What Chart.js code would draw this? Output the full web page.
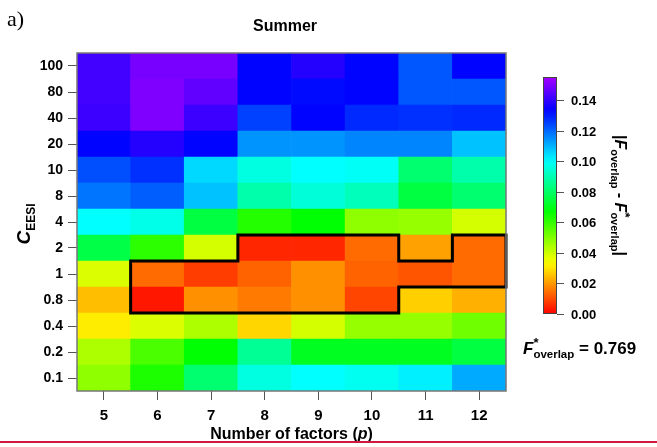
<!DOCTYPE html>
<html>
<head>
<meta charset="utf-8">
<script src="https://cdn.jsdelivr.net/npm/chart.js@4.4.0/dist/chart.umd.min.js"></script>
<style>
  html, body { margin: 0; padding: 0; background: #fff; }
</style>
</head>
<body>
<canvas id="heat" width="657" height="447"></canvas>
<script>
const FONT = "'Liberation Sans', Arial, sans-serif";

// number of factors (columns)
const factors = ["5", "6", "7", "8", "9", "10", "11", "12"];
// C_EESI levels, bottom row first
const cLevels = ["0.1", "0.2", "0.4", "0.8", "1", "2", "4", "8", "10", "20", "40", "80", "100"];

// |F_overlap - F*_overlap| for each C_EESI level, p = 5..12
const d0_1 = [0.048, 0.063, 0.081, 0.096, 0.100, 0.098, 0.102, 0.111];
const d0_2 = [0.044, 0.057, 0.067, 0.086, 0.071, 0.071, 0.071, 0.075];
const d0_4 = [0.031, 0.038, 0.044, 0.028, 0.039, 0.047, 0.047, 0.052];
const d0_8 = [0.025, 0.003, 0.019, 0.016, 0.019, 0.009, 0.027, 0.023];
const d1   = [0.038, 0.014, 0.008, 0.013, 0.019, 0.013, 0.011, 0.014];
const d2   = [0.076, 0.061, 0.039, 0.005, 0.005, 0.014, 0.021, 0.014];
const d4   = [0.100, 0.097, 0.075, 0.062, 0.067, 0.048, 0.047, 0.039];
const d8   = [0.118, 0.121, 0.108, 0.089, 0.095, 0.091, 0.075, 0.081];
const d10  = [0.123, 0.127, 0.105, 0.096, 0.100, 0.099, 0.081, 0.089];
const d20  = [0.133, 0.138, 0.133, 0.114, 0.114, 0.116, 0.116, 0.108];
const d40  = [0.141, 0.150, 0.141, 0.125, 0.133, 0.128, 0.127, 0.128];
const d80  = [0.142, 0.150, 0.146, 0.133, 0.132, 0.133, 0.122, 0.122];
const d100 = [0.142, 0.149, 0.149, 0.133, 0.138, 0.133, 0.122, 0.133];
const diffRows = [d0_1, d0_2, d0_4, d0_8, d1, d2, d4, d8, d10, d20, d40, d80, d100];

// cells inside the outlined region (1 = selected)
const sel0_8 = [0, 1, 1, 1, 1, 1, 0, 0];
const sel1   = [0, 1, 1, 1, 1, 1, 1, 1];
const sel2   = [0, 0, 0, 1, 1, 1, 0, 1];
const selRows = { 3: sel0_8, 4: sel1, 5: sel2 };

// colour bar
const cbMax = 0.155;
const cbTicks = [0, 0.02, 0.04, 0.06, 0.08, 0.10, 0.12, 0.14];
const fStar = "0.769";

function colorFor(v) {
  const hue = Math.max(0, Math.min(v / cbMax, 1)) * 279;
  return `hsl(${hue.toFixed(1)}, 100%, 50%)`;
}

// draw a run of text pieces with their own fonts / offsets
function drawRich(ctx, parts, x, y, align) {
  let total = 0;
  parts.forEach(p => {
    ctx.font = p.font;
    p.w = ctx.measureText(p.t).width;
    if (!p.stack) total += p.w;
  });
  let cx = align === "center" ? x - total / 2 : x;
  ctx.textBaseline = "alphabetic";
  ctx.textAlign = "left";
  parts.forEach(p => {
    ctx.font = p.font;
    ctx.fillText(p.t, cx, y + (p.dy || 0));
    if (!p.stack) cx += p.w;
  });
}

const decor = {
  id: "decor",
  beforeDraw(chart) {
    const ctx = chart.ctx;
    ctx.save();
    ctx.fillStyle = "#fff";
    ctx.fillRect(0, 0, chart.width, chart.height);
    ctx.restore();
  },
  afterDatasetsDraw(chart) {
    const ctx = chart.ctx;
    const xs = chart.scales.x, ys = chart.scales.y;
    const area = chart.chartArea;
    const colW = (xs.right - xs.left) / factors.length;

    // outline around selected cells
    const isSel = (r, c) => !!(selRows[r] && selRows[r][c]);
    ctx.save();
    ctx.beginPath();
    Object.keys(selRows).forEach(k => {
      const r = +k;
      selRows[r].forEach((s, c) => {
        if (!s) return;
        const x0 = xs.getPixelForValue(c) - colW / 2, x1 = x0 + colW;
        const yb = ys.getPixelForValue(r), yt = ys.getPixelForValue(r + 1);
        if (!isSel(r + 1, c)) { ctx.moveTo(x0, yt); ctx.lineTo(x1, yt); }
        if (!isSel(r - 1, c)) { ctx.moveTo(x0, yb); ctx.lineTo(x1, yb); }
        if (!isSel(r, c - 1)) { ctx.moveTo(x0, yt); ctx.lineTo(x0, yb); }
        if (!isSel(r, c + 1)) { ctx.moveTo(x1, yt); ctx.lineTo(x1, yb); }
      });
    });
    ctx.lineWidth = 3;
    ctx.lineCap = "square";
    ctx.strokeStyle = "#000";
    ctx.stroke();

    // plot frame
    ctx.lineWidth = 1.5;
    ctx.strokeStyle = "#777";
    ctx.strokeRect(area.left, area.top, area.right - area.left, area.bottom - area.top);
    ctx.restore();
  },
  afterDraw(chart) {
    const ctx = chart.ctx;
    const area = chart.chartArea;
    ctx.save();
    ctx.fillStyle = "#000";

    // panel letter and title
    ctx.font = "22px 'Liberation Serif', 'Times New Roman', serif";
    ctx.textAlign = "left";
    ctx.textBaseline = "alphabetic";
    ctx.fillText("a)", 7, 26);
    ctx.font = `bold 16px ${FONT}`;
    ctx.textAlign = "center";
    ctx.fillText("Summer", 285, 31);

    // x axis title
    drawRich(ctx, [
      { t: "Number of factors (", font: `bold 16px ${FONT}` },
      { t: "p", font: `italic bold 16px ${FONT}` },
      { t: ")", font: `bold 16px ${FONT}` }
    ], (area.left + area.right) / 2, 439, "center");

    // y axis title
    ctx.save();
    ctx.translate(30, (area.top + area.bottom) / 2 + 2);
    ctx.rotate(-Math.PI / 2);
    drawRich(ctx, [
      { t: "C", font: `italic bold 19px ${FONT}` },
      { t: "EESI", font: `bold 12px ${FONT}`, dy: 5 }
    ], 0, 0, "center");
    ctx.restore();

    // colour bar
    const cbL = 543, cbR = 557, cbT = 77, cbB = 314;
    const grad = ctx.createLinearGradient(0, cbB, 0, cbT);
    for (let i = 0; i <= 30; i++) grad.addColorStop(i / 30, colorFor(cbMax * i / 30));
    ctx.fillStyle = grad;
    ctx.fillRect(cbL, cbT, cbR - cbL, cbB - cbT);
    ctx.lineWidth = 1;
    ctx.strokeStyle = "#444";
    ctx.strokeRect(cbL + 0.5, cbT + 0.5, cbR - cbL - 1, cbB - cbT - 1);
    ctx.fillStyle = "#000";
    ctx.font = `bold 13px ${FONT}`;
    ctx.textAlign = "left";
    ctx.textBaseline = "middle";
    cbTicks.forEach(v => {
      const y = Math.round(cbB - v / cbMax * (cbB - cbT)) + 0.5;
      ctx.strokeStyle = "#555";
      ctx.beginPath();
      ctx.moveTo(cbR, y);
      ctx.lineTo(cbR + 7, y);
      ctx.stroke();
      ctx.fillText(v.toFixed(2), 571, y + 1);
    });

    // colour bar label
    ctx.save();
    ctx.translate(615, (cbT + cbB) / 2);
    ctx.rotate(Math.PI / 2);
    const big = `bold 16px ${FONT}`, it = `italic bold 16px ${FONT}`, sub = `bold 11px ${FONT}`;
    drawRich(ctx, [
      { t: "|", font: big },
      { t: "F", font: it },
      { t: "overlap", font: sub, dy: 4 },
      { t: " - ", font: big },
      { t: "F", font: it },
      { t: "*", font: `bold 13px ${FONT}`, dy: -6, stack: true },
      { t: "overlap", font: sub, dy: 4 },
      { t: "|", font: big }
    ], 0, 0, "center");
    ctx.restore();

    // F* annotation
    drawRich(ctx, [
      { t: "F", font: `italic bold 17px ${FONT}` },
      { t: "*", font: `bold 13px ${FONT}`, dy: -7, stack: true },
      { t: "overlap", font: `bold 11.5px ${FONT}`, dy: 4 },
      { t: " = " + fStar, font: `bold 17px ${FONT}` }
    ], 523, 354, "left");

    // rule along the bottom
    ctx.fillStyle = "#d3183f";
    ctx.fillRect(0, 441, chart.width, 2);
    ctx.restore();
  }
};

const datasets = cLevels.map((lvl, i) => ({
  label: lvl,
  data: factors.map(() => 1),
  backgroundColor: diffRows[i].map(colorFor),
  borderWidth: 0,
  barPercentage: 1,
  categoryPercentage: 1,
  stack: "grid"
}));

const tickFont = { family: FONT, weight: "bold" };

new Chart(document.getElementById("heat"), {
  type: "bar",
  data: { labels: factors, datasets },
  options: {
    responsive: false,
    animation: false,
    devicePixelRatio: 1,
    layout: { padding: { left: 0, top: 53, right: 151, bottom: 0 } },
    plugins: { legend: { display: false }, tooltip: { enabled: false }, title: { display: false } },
    scales: {
      x: {
        type: "category",
        stacked: true,
        offset: true,
        border: { display: false },
        grid: { drawOnChartArea: false, offset: false, tickLength: 9, color: "#555", lineWidth: 1 },
        ticks: { color: "#000", font: { ...tickFont, size: 15 }, padding: 7, maxRotation: 0, autoSkip: false },
        afterFit: s => { s.height = 56; }
      },
      y: {
        type: "linear",
        stacked: true,
        min: 0,
        max: cLevels.length,
        border: { display: false },
        grid: { drawOnChartArea: false, tickLength: 9, color: "#555", lineWidth: 1 },
        afterBuildTicks: s => { s.ticks = cLevels.map((_, i) => ({ value: i + 0.5 })); },
        ticks: {
          color: "#000",
          font: { ...tickFont, size: 14 },
          padding: 5,
          autoSkip: false,
          callback: (v, i) => cLevels[i]
        },
        afterFit: s => { s.width = 77; }
      }
    }
  },
  plugins: [decor]
});
</script>
</body>
</html>
